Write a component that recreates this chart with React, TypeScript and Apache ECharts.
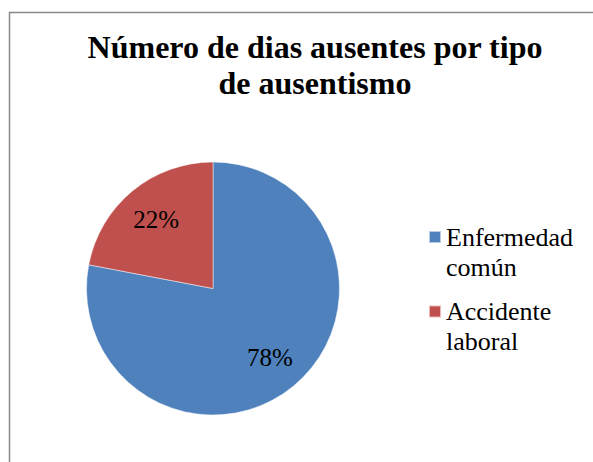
import React, { useEffect, useRef } from "react";
import * as echarts from "echarts";

const categories = ["Enfermedad\ncomún", "Accidente\nlaboral"];
const values = [78, 22];
const colors = ["#4F81BD", "#C0504D"];
const titleText = "Número de dias ausentes por tipo\nde ausentismo";

export default function App() {
  const ref = useRef<HTMLDivElement>(null);
  useEffect(() => {
    if (!ref.current) return;
    const chart = echarts.init(ref.current, null, { renderer: "svg" });
    const data = categories.map((name, i) => ({
      name,
      value: values[i],
      itemStyle: { color: colors[i] },
    }));
    const serif = "Liberation Serif";
    chart.setOption({
      animation: false,
      backgroundColor: "#ffffff",
      title: {
        text: titleText,
        left: 315,
        top: 29,
        textAlign: "center",
        padding: 0,
        textStyle: {
          fontFamily: serif,
          fontWeight: "bold",
          fontSize: 32,
          lineHeight: 36,
          color: "#000",
        },
      },
      legend: {
        orient: "vertical",
        left: 428,
        top: 192,
        padding: 0,
        itemWidth: 12,
        itemHeight: 12,
        itemGap: -15.5,
        icon: "rect",
        selectedMode: false,
        data: categories,
        formatter: (name: string) => "\n" + name,
        textStyle: {
          fontFamily: serif,
          fontSize: 26,
          lineHeight: 30,
          color: "#000",
        },
      },
      graphic: [
        {
          type: "rect",
          shape: { x: 9.5, y: 12.5, width: 700, height: 600 },
          style: { fill: "none", stroke: "#888888", lineWidth: 1.5 },
          silent: true,
        },
      ],
      series: [
        {
          type: "pie",
          center: [213, 288.5],
          radius: [0, 126.5],
          startAngle: 90,
          clockwise: true,
          label: { show: false },
          labelLine: { show: false },
          itemStyle: { borderColor: "rgba(255,255,255,0.6)", borderWidth: 0.8 },
          emphasis: { disabled: true },
          data,
        },
        {
          type: "pie",
          center: [213, 288.5],
          radius: [46, 126.5],
          startAngle: 90,
          clockwise: true,
          silent: true,
          itemStyle: { color: "transparent" },
          label: {
            show: true,
            position: "inside",
            formatter: "{d}%",
            fontFamily: serif,
            fontSize: 25,
            color: "#000",
          },
          labelLine: { show: false },
          emphasis: { disabled: true },
          data: categories.map((name, i) => ({
            name,
            value: values[i],
            itemStyle: { color: "transparent" },
          })),
        },
      ],
    });
    return () => chart.dispose();
  }, []);
  return (
    <div
      ref={ref}
      style={{ position: "fixed", left: 0, top: 0, width: 593, height: 462 }}
    />
  );
}
